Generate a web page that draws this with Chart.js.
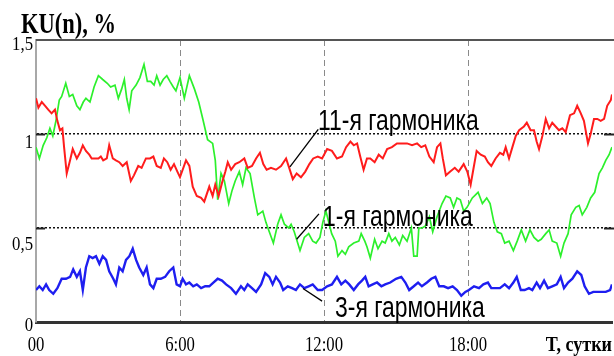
<!DOCTYPE html>
<html>
<head>
<meta charset="utf-8">
<script src="https://cdn.jsdelivr.net/npm/chart.js@4/dist/chart.umd.min.js"></script>
<style>
html, body { margin: 0; padding: 0; background: #fff; }
</style>
</head>
<body>
<canvas id="myChart" width="614" height="356"></canvas>
<script>
// 11-я гармоника (red)
const hoursRed = [0.00, 0.10, 0.24, 0.38, 0.51, 0.65, 0.79, 0.89, 1.00, 1.10, 1.17, 1.28, 1.42, 1.53, 1.70, 1.83, 1.95, 2.08, 2.22, 2.32,
    2.46, 2.60, 2.70, 2.80, 2.95, 3.05, 3.20, 3.33, 3.47, 3.61, 3.78, 3.95, 4.08, 4.26, 4.40, 4.58, 4.75, 4.89, 5.03, 5.20,
    5.33, 5.47, 5.61, 5.75, 5.89, 6.00, 6.25, 6.39, 6.53, 6.70, 6.88, 7.01, 7.22, 7.36, 7.47, 7.61, 7.75, 7.89, 7.99, 8.13,
    8.30, 8.47, 8.68, 8.82, 9.00, 9.17, 9.33, 9.47, 9.61, 9.79, 10.00, 10.21, 10.42, 10.55, 10.70, 10.86, 11.04, 11.22, 11.39, 11.55,
    11.74, 11.92, 12.13, 12.33, 12.54, 12.75, 12.92, 13.10, 13.24, 13.38, 13.51, 13.65, 13.79, 13.93, 14.11, 14.28, 14.45, 14.63, 14.83, 15.04,
    15.25, 15.46, 15.67, 15.88, 16.05, 16.22, 16.39, 16.57, 16.71, 16.85, 16.95, 17.08, 17.26, 17.45, 17.61, 17.82, 17.97, 18.11, 18.22, 18.36,
    18.53, 18.70, 18.83, 18.97, 19.15, 19.33, 19.47, 19.57, 19.71, 19.85, 19.99, 20.13, 20.33, 20.45, 20.61, 20.75, 20.86, 20.96, 21.10, 21.24,
    21.38, 21.51, 21.65, 21.79, 21.93, 22.07, 22.25, 22.42, 22.55, 22.70, 22.83, 23.00, 23.11, 23.25, 23.39, 23.53, 23.67, 23.80, 23.95, 24.00]
const kuRed = [1.19, 1.14, 1.17, 1.15, 1.13, 1.11, 1.13, 1.07, 1.02, 1.03, 0.93, 0.79, 0.86, 0.92, 0.87, 0.90, 0.94, 0.91, 0.89, 0.87,
    0.87, 0.87, 0.88, 0.86, 0.87, 0.94, 0.87, 0.86, 0.85, 0.83, 0.85, 0.75, 0.78, 0.83, 0.82, 0.87, 0.87, 0.88, 0.83, 0.82,
    0.87, 0.85, 0.81, 0.84, 0.80, 0.77, 0.86, 0.83, 0.72, 0.67, 0.66, 0.64, 0.72, 0.67, 0.73, 0.67, 0.74, 0.80, 0.85, 0.81,
    0.84, 0.85, 0.87, 0.82, 0.83, 0.87, 0.90, 0.84, 0.81, 0.82, 0.81, 0.83, 0.87, 0.82, 0.76, 0.79, 0.77, 0.80, 0.84, 0.87,
    0.88, 0.87, 0.92, 0.91, 0.87, 0.88, 0.93, 0.96, 0.94, 0.95, 0.88, 0.81, 0.87, 0.87, 0.85, 0.89, 0.87, 0.92, 0.93, 0.95,
    0.95, 0.95, 0.94, 0.95, 0.93, 0.94, 0.88, 0.85, 0.93, 0.95, 0.87, 0.78, 0.80, 0.82, 0.80, 0.84, 0.80, 0.73, 0.81, 0.91,
    0.89, 0.88, 0.85, 0.83, 0.87, 0.90, 0.89, 0.93, 0.87, 0.93, 0.99, 1.02, 1.04, 1.06, 1.02, 1.02, 0.96, 0.92, 0.99, 1.08,
    1.03, 1.06, 1.04, 1.02, 1.03, 1.01, 1.10, 1.11, 1.15, 1.11, 1.07, 0.95, 1.00, 1.08, 1.08, 1.07, 1.08, 1.15, 1.18, 1.21]

// 1-я гармоника (green)
const hoursGreen = [0.00, 0.14, 0.30, 0.45, 0.58, 0.70, 0.83, 0.97, 1.07, 1.24, 1.39, 1.53, 1.70, 1.83, 1.97, 2.08, 2.25, 2.42, 2.60, 2.78,
    2.97, 3.11, 3.29, 3.43, 3.57, 3.68, 3.78, 3.88, 3.99, 4.17, 4.33, 4.50, 4.64, 4.78, 4.92, 5.03, 5.17, 5.30, 5.45, 5.58,
    5.72, 5.83, 6.00, 6.18, 6.39, 6.60, 6.78, 6.95, 7.15, 7.36, 7.47, 7.57, 7.71, 7.85, 8.03, 8.17, 8.30, 8.47, 8.61, 8.75,
    8.92, 9.10, 9.24, 9.45, 9.58, 9.72, 9.89, 10.07, 10.21, 10.35, 10.53, 10.63, 10.76, 11.00, 11.18, 11.36, 11.53, 11.67, 11.83, 11.95,
    12.08, 12.32, 12.47, 12.58, 12.75, 12.89, 13.03, 13.24, 13.45, 13.55, 13.70, 13.79, 13.93, 14.11, 14.25, 14.42, 14.55, 14.70, 14.83, 14.97,
    15.14, 15.28, 15.46, 15.64, 15.74, 15.88, 15.95, 16.08, 16.22, 16.39, 16.53, 16.71, 16.92, 17.08, 17.26, 17.40, 17.54, 17.68, 17.82, 17.96,
    18.18, 18.42, 18.60, 18.78, 18.92, 19.08, 19.22, 19.39, 19.53, 19.71, 19.89, 20.05, 20.22, 20.40, 20.58, 20.75, 20.92, 21.05, 21.24, 21.38,
    21.51, 21.70, 21.86, 22.00, 22.17, 22.30, 22.49, 22.63, 22.76, 22.95, 23.11, 23.28, 23.46, 23.60, 23.74, 23.88, 24.00]
const kuGreen = [0.93, 0.87, 0.94, 0.98, 1.03, 0.99, 1.07, 1.18, 1.20, 1.27, 1.20, 1.21, 1.15, 1.13, 1.17, 1.19, 1.17, 1.25, 1.31, 1.29,
    1.27, 1.25, 1.26, 1.19, 1.24, 1.29, 1.19, 1.13, 1.23, 1.26, 1.30, 1.37, 1.28, 1.28, 1.26, 1.31, 1.26, 1.29, 1.31, 1.28,
    1.25, 1.23, 1.30, 1.19, 1.31, 1.24, 1.17, 1.08, 0.97, 0.95, 0.86, 0.65, 0.79, 0.75, 0.63, 0.70, 0.75, 0.80, 0.73, 0.82,
    0.79, 0.66, 0.57, 0.59, 0.53, 0.48, 0.42, 0.52, 0.57, 0.52, 0.50, 0.52, 0.48, 0.38, 0.45, 0.47, 0.43, 0.42, 0.45, 0.53,
    0.59, 0.47, 0.43, 0.35, 0.38, 0.36, 0.40, 0.42, 0.43, 0.47, 0.43, 0.40, 0.34, 0.44, 0.39, 0.43, 0.42, 0.47, 0.43, 0.45,
    0.41, 0.46, 0.43, 0.50, 0.35, 0.35, 0.50, 0.50, 0.51, 0.56, 0.48, 0.56, 0.63, 0.67, 0.66, 0.61, 0.66, 0.65, 0.59, 0.61,
    0.66, 0.69, 0.63, 0.66, 0.63, 0.53, 0.48, 0.47, 0.42, 0.43, 0.38, 0.43, 0.49, 0.43, 0.49, 0.45, 0.43, 0.44, 0.47, 0.49,
    0.43, 0.42, 0.35, 0.42, 0.47, 0.57, 0.61, 0.62, 0.57, 0.61, 0.66, 0.69, 0.79, 0.82, 0.86, 0.89, 0.93]

// 3-я гармоника (blue)
const hoursBlue = [0.00, 0.14, 0.28, 0.42, 0.55, 0.72, 0.89, 1.07, 1.25, 1.42, 1.55, 1.70, 1.83, 1.95, 2.08, 2.22, 2.36, 2.50, 2.64, 2.78,
    2.92, 3.05, 3.22, 3.33, 3.47, 3.61, 3.75, 3.89, 4.03, 4.17, 4.30, 4.47, 4.61, 4.75, 4.89, 5.03, 5.20, 5.38, 5.55, 5.72,
    5.86, 6.00, 6.11, 6.25, 6.39, 6.55, 6.70, 6.88, 7.05, 7.22, 7.39, 7.57, 7.75, 7.92, 8.13, 8.33, 8.54, 8.68, 8.82, 9.00,
    9.17, 9.38, 9.55, 9.72, 9.86, 10.00, 10.17, 10.30, 10.49, 10.67, 10.83, 11.00, 11.18, 11.36, 11.53, 11.74, 11.92, 12.13, 12.33, 12.54,
    12.72, 12.89, 13.05, 13.24, 13.42, 13.58, 13.72, 13.86, 14.03, 14.21, 14.39, 14.55, 14.76, 15.00, 15.22, 15.39, 15.55, 15.74, 15.92, 16.08,
    16.29, 16.47, 16.64, 16.80, 16.99, 17.17, 17.36, 17.54, 17.72, 17.89, 18.04, 18.25, 18.46, 18.64, 18.83, 18.97, 19.15, 19.33, 19.53, 19.71,
    19.89, 20.03, 20.20, 20.36, 20.54, 20.68, 20.86, 21.00, 21.17, 21.33, 21.51, 21.70, 21.86, 22.00, 22.17, 22.35, 22.55, 22.72, 22.86, 23.04,
    23.22, 23.39, 23.55, 23.74, 23.92, 24.00]
const kuBlue = [0.17, 0.19, 0.17, 0.20, 0.17, 0.15, 0.18, 0.23, 0.23, 0.24, 0.28, 0.24, 0.27, 0.17, 0.29, 0.35, 0.34, 0.35, 0.31, 0.35,
    0.33, 0.27, 0.23, 0.20, 0.29, 0.27, 0.33, 0.35, 0.39, 0.33, 0.29, 0.25, 0.29, 0.20, 0.18, 0.23, 0.23, 0.24, 0.27, 0.29,
    0.20, 0.19, 0.23, 0.20, 0.21, 0.19, 0.20, 0.18, 0.19, 0.19, 0.21, 0.23, 0.22, 0.20, 0.18, 0.15, 0.19, 0.17, 0.20, 0.18,
    0.16, 0.20, 0.26, 0.24, 0.20, 0.24, 0.21, 0.17, 0.19, 0.18, 0.17, 0.20, 0.18, 0.19, 0.20, 0.17, 0.17, 0.19, 0.20, 0.24,
    0.20, 0.22, 0.20, 0.17, 0.20, 0.22, 0.24, 0.19, 0.20, 0.21, 0.19, 0.20, 0.21, 0.23, 0.24, 0.21, 0.17, 0.19, 0.21, 0.19,
    0.21, 0.23, 0.24, 0.19, 0.19, 0.18, 0.19, 0.17, 0.14, 0.16, 0.17, 0.19, 0.18, 0.20, 0.21, 0.18, 0.18, 0.18, 0.20, 0.18,
    0.21, 0.24, 0.17, 0.17, 0.18, 0.17, 0.21, 0.18, 0.22, 0.18, 0.19, 0.20, 0.24, 0.18, 0.21, 0.23, 0.27, 0.25, 0.19, 0.15,
    0.16, 0.16, 0.16, 0.16, 0.17, 0.20]

const xTickValues = [0, 6, 12, 18]
const xTickLabels = ['00', '6:00', '12:00', '18:00']
const yTickValues = [0, 0.5, 1, 1.5]
const yTickLabels = ['0', '0,5', '1', '1,5']

// series labels: [text, label x (h), label baseline (KU), leader from, leader to]
const seriesNotes = [
    ['11-я гармоника', 11.75, 1.019, [11.76, 1.025], [10.58, 0.825]],
    ['1-я гармоника', 11.96, 0.513, [11.79, 0.575], [10.86, 0.44]],
    ['3-я гармоника', 12.46, 0.026, [11.125, 0.178], [11.92, 0.111]]
]

const SERIF = '"Liberation Serif", "Times New Roman", serif'
const SANS = '"Liberation Sans", Arial, sans-serif'

const toPoints = (xs, ys) => xs.map((x, i) => ({ x: x, y: ys[i] }))

// draws text squeezed horizontally like the original scan
const drawText = (c, text, x, y, font, scaleX, align) => {
    c.save()
    c.font = font
    c.fillStyle = '#000'
    c.textBaseline = 'alphabetic'
    c.textAlign = 'left'
    const w = c.measureText(text).width * scaleX
    let left = x
    if (align === 'right') left = x - w
    if (align === 'center') left = x - w / 2
    c.translate(left, y)
    c.scale(scaleX, 1)
    c.fillText(text, 0, 0)
    c.restore()
}

const framePlugin = {
    id: 'frame',
    beforeDatasetsDraw(chart) {
        const c = chart.ctx
        const a = chart.chartArea
        const ys = chart.scales.y
        c.save()
        // top border
        c.strokeStyle = '#555'
        c.lineWidth = 2
        c.beginPath()
        c.moveTo(a.left, a.top)
        c.lineTo(a.right + 2, a.top)
        c.stroke()
        // short solid ticks at the ends of dotted lines
        c.strokeStyle = '#222'
        c.lineWidth = 2
        ;[0.5, 1].forEach(v => {
            const py = Math.round(ys.getPixelForValue(v)) + 0.5
            c.beginPath()
            c.moveTo(a.left, py)
            c.lineTo(a.left + 9, py)
            c.moveTo(a.right - 8, py)
            c.lineTo(a.right + 2, py)
            c.stroke()
        })
        c.restore()
    },
    afterDatasetsDraw(chart) {
        const c = chart.ctx
        const xs = chart.scales.x
        const ys = chart.scales.y
        const a = chart.chartArea

        // series labels with leader lines
        seriesNotes.forEach(n => {
            c.save()
            c.strokeStyle = '#000'
            c.lineWidth = 1.3
            c.beginPath()
            c.moveTo(xs.getPixelForValue(n[3][0]), ys.getPixelForValue(n[3][1]))
            c.lineTo(xs.getPixelForValue(n[4][0]), ys.getPixelForValue(n[4][1]))
            c.stroke()
            c.restore()
            drawText(c, n[0], xs.getPixelForValue(n[1]), ys.getPixelForValue(n[2]), '29px ' + SANS, 0.79, 'left')
        })

        // y tick labels
        const yOffsets = [9, 22, 14, 10]
        yTickValues.forEach((v, i) => {
            drawText(c, yTickLabels[i], a.left - 3, ys.getPixelForValue(v) + yOffsets[i], '18px ' + SERIF, 0.93, 'right')
        })

        // x tick labels
        xTickValues.forEach((v, i) => {
            drawText(c, xTickLabels[i], xs.getPixelForValue(v), 351, '22px ' + SERIF, 0.76, 'center')
        })

        drawText(c, 'T, сутки', 612, 351, 'bold 22px ' + SERIF, 0.82, 'right')
        drawText(c, 'KU(n), %', 21, 33, 'bold 30px ' + SERIF, 0.75, 'left')
    }
}

const ctx = document.getElementById('myChart')

const chart = new Chart(ctx, {
    type: 'line',
    data: {
        datasets: [
            {
                label: '11-я гармоника',
                data: toPoints(hoursRed, kuRed),
                borderColor: '#ff1c1c',
                borderWidth: 2
            },
            {
                label: '1-я гармоника',
                data: toPoints(hoursGreen, kuGreen),
                borderColor: '#2cf02c',
                borderWidth: 1.7
            },
            {
                label: '3-я гармоника',
                data: toPoints(hoursBlue, kuBlue),
                borderColor: '#1e1ef0',
                borderWidth: 2.4
            }
        ]
    },
    options: {
        responsive: false,
        animation: false,
        devicePixelRatio: 1,
        layout: {
            padding: { left: 36, right: 2, top: 40, bottom: 34 }
        },
        elements: {
            point: { radius: 0 },
            line: { tension: 0 }
        },
        scales: {
            x: {
                type: 'linear',
                min: 0,
                max: 24,
                afterFit: s => { s.height = 0 },
                afterBuildTicks: s => { s.ticks = xTickValues.concat([24]).map(v => ({ value: v })) },
                ticks: { display: false },
                grid: {
                    drawTicks: false,
                    lineWidth: 1,
                    color: c => (c.tick && c.tick.value > 0 && c.tick.value < 24) ? '#8a8a8a' : 'rgba(0,0,0,0)'
                },
                border: { display: true, color: '#333', width: 3, dash: [6, 4] }
            },
            y: {
                min: 0,
                max: 1.5,
                afterFit: s => { s.width = 0 },
                afterBuildTicks: s => { s.ticks = yTickValues.map(v => ({ value: v })) },
                ticks: { display: false },
                grid: {
                    drawTicks: false,
                    lineWidth: 1.5,
                    color: c => (c.tick && (c.tick.value === 0.5 || c.tick.value === 1)) ? '#111' : 'rgba(0,0,0,0)'
                },
                border: { display: true, color: '#a8a8a8', width: 2, dash: [2, 2] }
            }
        },
        plugins: {
            legend: { display: false },
            tooltip: { enabled: false }
        }
    },
    plugins: [framePlugin]
})
</script>
</body>
</html>
